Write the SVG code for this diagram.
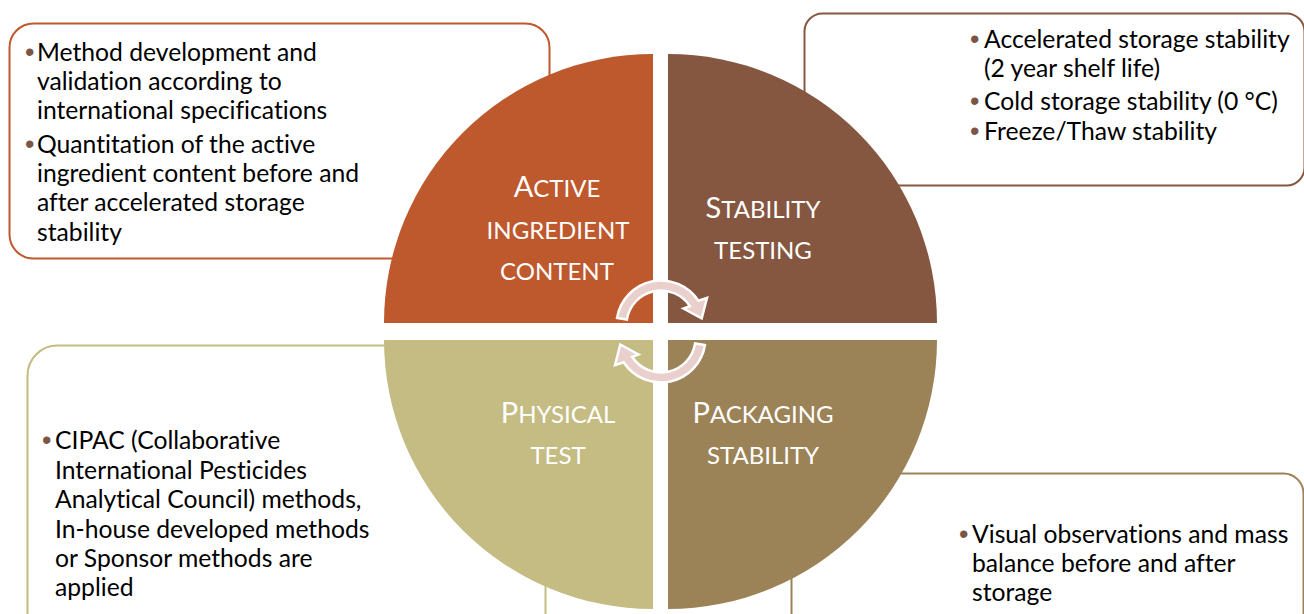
<svg xmlns="http://www.w3.org/2000/svg" width="1304" height="614" viewBox="0 0 1304 614">
<style>
.box{fill:#fff;stroke-width:2}
.t{font-family:Lato,"Open Sans","Liberation Sans",sans-serif;font-size:24.7px;fill:#000;font-variant-ligatures:none}
.bul{fill:#7a5646;font-family:"Liberation Sans",sans-serif;font-size:27px}
.lbl{font-family:Lato,"Open Sans","Liberation Sans",sans-serif;font-size:24px;fill:#fff;text-anchor:middle}
.big{font-size:29px}
.arrow{fill:#e9d0cc;stroke:#fff;stroke-width:2.5;stroke-linejoin:miter}
</style>
<rect width="1304" height="614" fill="#fff"/>
<g id="box-active">
<rect class="box" x="9.5" y="23.5" width="540" height="235" rx="24" stroke="#c0592e"/>
<text class="t" y="60.5"><tspan class="bul" x="25">•</tspan><tspan x="37">Method development and</tspan></text>
<text class="t" x="37" y="89.5">validation according to</text>
<text class="t" x="37" y="118.5">international specifications</text>
<text class="t" y="153"><tspan class="bul" x="25">•</tspan><tspan x="37">Quantitation of the active</tspan></text>
<text class="t" x="37" y="182">ingredient content before and</text>
<text class="t" x="37" y="211">after accelerated storage</text>
<text class="t" x="37" y="240.5">stability</text>
</g>
<g id="box-stability">
<rect class="box" x="804.5" y="13.5" width="500" height="172" rx="18" stroke="#855741"/>
<text class="t" y="48"><tspan class="bul" x="970">•</tspan><tspan x="984">Accelerated storage stability</tspan></text>
<text class="t" x="984" y="77">(2 year shelf life)</text>
<text class="t" y="110"><tspan class="bul" x="970">•</tspan><tspan x="984">Cold storage stability (0 °C)</tspan></text>
<text class="t" y="140"><tspan class="bul" x="970">•</tspan><tspan x="984">Freeze/Thaw stability</tspan></text>
</g>
<g id="box-physical">
<rect class="box" x="27.5" y="345.5" width="518" height="300" rx="30" stroke="#c4bc83"/>
<text class="t" y="449"><tspan class="bul" x="42">•</tspan><tspan x="55">CIPAC (Collaborative</tspan></text>
<text class="t" x="55" y="479">International Pesticides</text>
<text class="t" x="55" y="508">Analytical Council) methods,</text>
<text class="t" x="55" y="538">In-house developed methods</text>
<text class="t" x="55" y="567">or Sponsor methods are</text>
<text class="t" x="55" y="596">applied</text>
</g>
<g id="box-packaging">
<rect class="box" x="791.5" y="473.5" width="512" height="200" rx="20" stroke="#9c8357"/>
<text class="t" y="543"><tspan class="bul" x="959">•</tspan><tspan x="972">Visual observations and mass</tspan></text>
<text class="t" x="972" y="572">balance before and after</text>
<text class="t" x="972" y="601">storage</text>
</g>
<g id="quad-active">
<path d="M653 323 L384 323 A269 269 0 0 1 653 54 Z" fill="#be582d"/>
<text class="lbl" x="557" y="197"><tspan class="big">A</tspan>CTIVE</text>
<text class="lbl" x="558" y="239">INGREDIENT</text>
<text class="lbl" x="557" y="280">CONTENT</text>
</g>
<g id="quad-stability">
<path d="M668 323 L668 54 A269 269 0 0 1 937 323 Z" fill="#855741"/>
<text class="lbl" x="763" y="218"><tspan class="big">S</tspan>TABILITY</text>
<text class="lbl" x="763" y="259">TESTING</text>
</g>
<g id="quad-packaging">
<path d="M668 340 L937 340 A269 269 0 0 1 668 609 Z" fill="#9c8357"/>
<text class="lbl" x="763" y="423"><tspan class="big">P</tspan>ACKAGING</text>
<text class="lbl" x="763" y="464">STABILITY</text>
</g>
<g id="quad-physical">
<path d="M653 340 L653 609 A269 269 0 0 1 384 340 Z" fill="#c4bc83"/>
<text class="lbl" x="558" y="423"><tspan class="big">P</tspan>HYSICAL</text>
<text class="lbl" x="558" y="464">TEST</text>
</g>
<g id="connectors">
<path id="arrow-top" class="arrow" d="M617.05 318.04 A44.5 44.5 0 0 1 698.32 300.76 L707 298 L701.7 318.5 L683.5 308.5 L689.93 306.21 A34.5 34.5 0 0 0 626.92 319.6 Z"/>
<path id="arrow-bottom" class="arrow" transform="rotate(180 661 331.5)" d="M617.05 318.04 A44.5 44.5 0 0 1 698.32 300.76 L707 298 L701.7 318.5 L683.5 308.5 L689.93 306.21 A34.5 34.5 0 0 0 626.92 319.6 Z"/>
</g>
</svg>
